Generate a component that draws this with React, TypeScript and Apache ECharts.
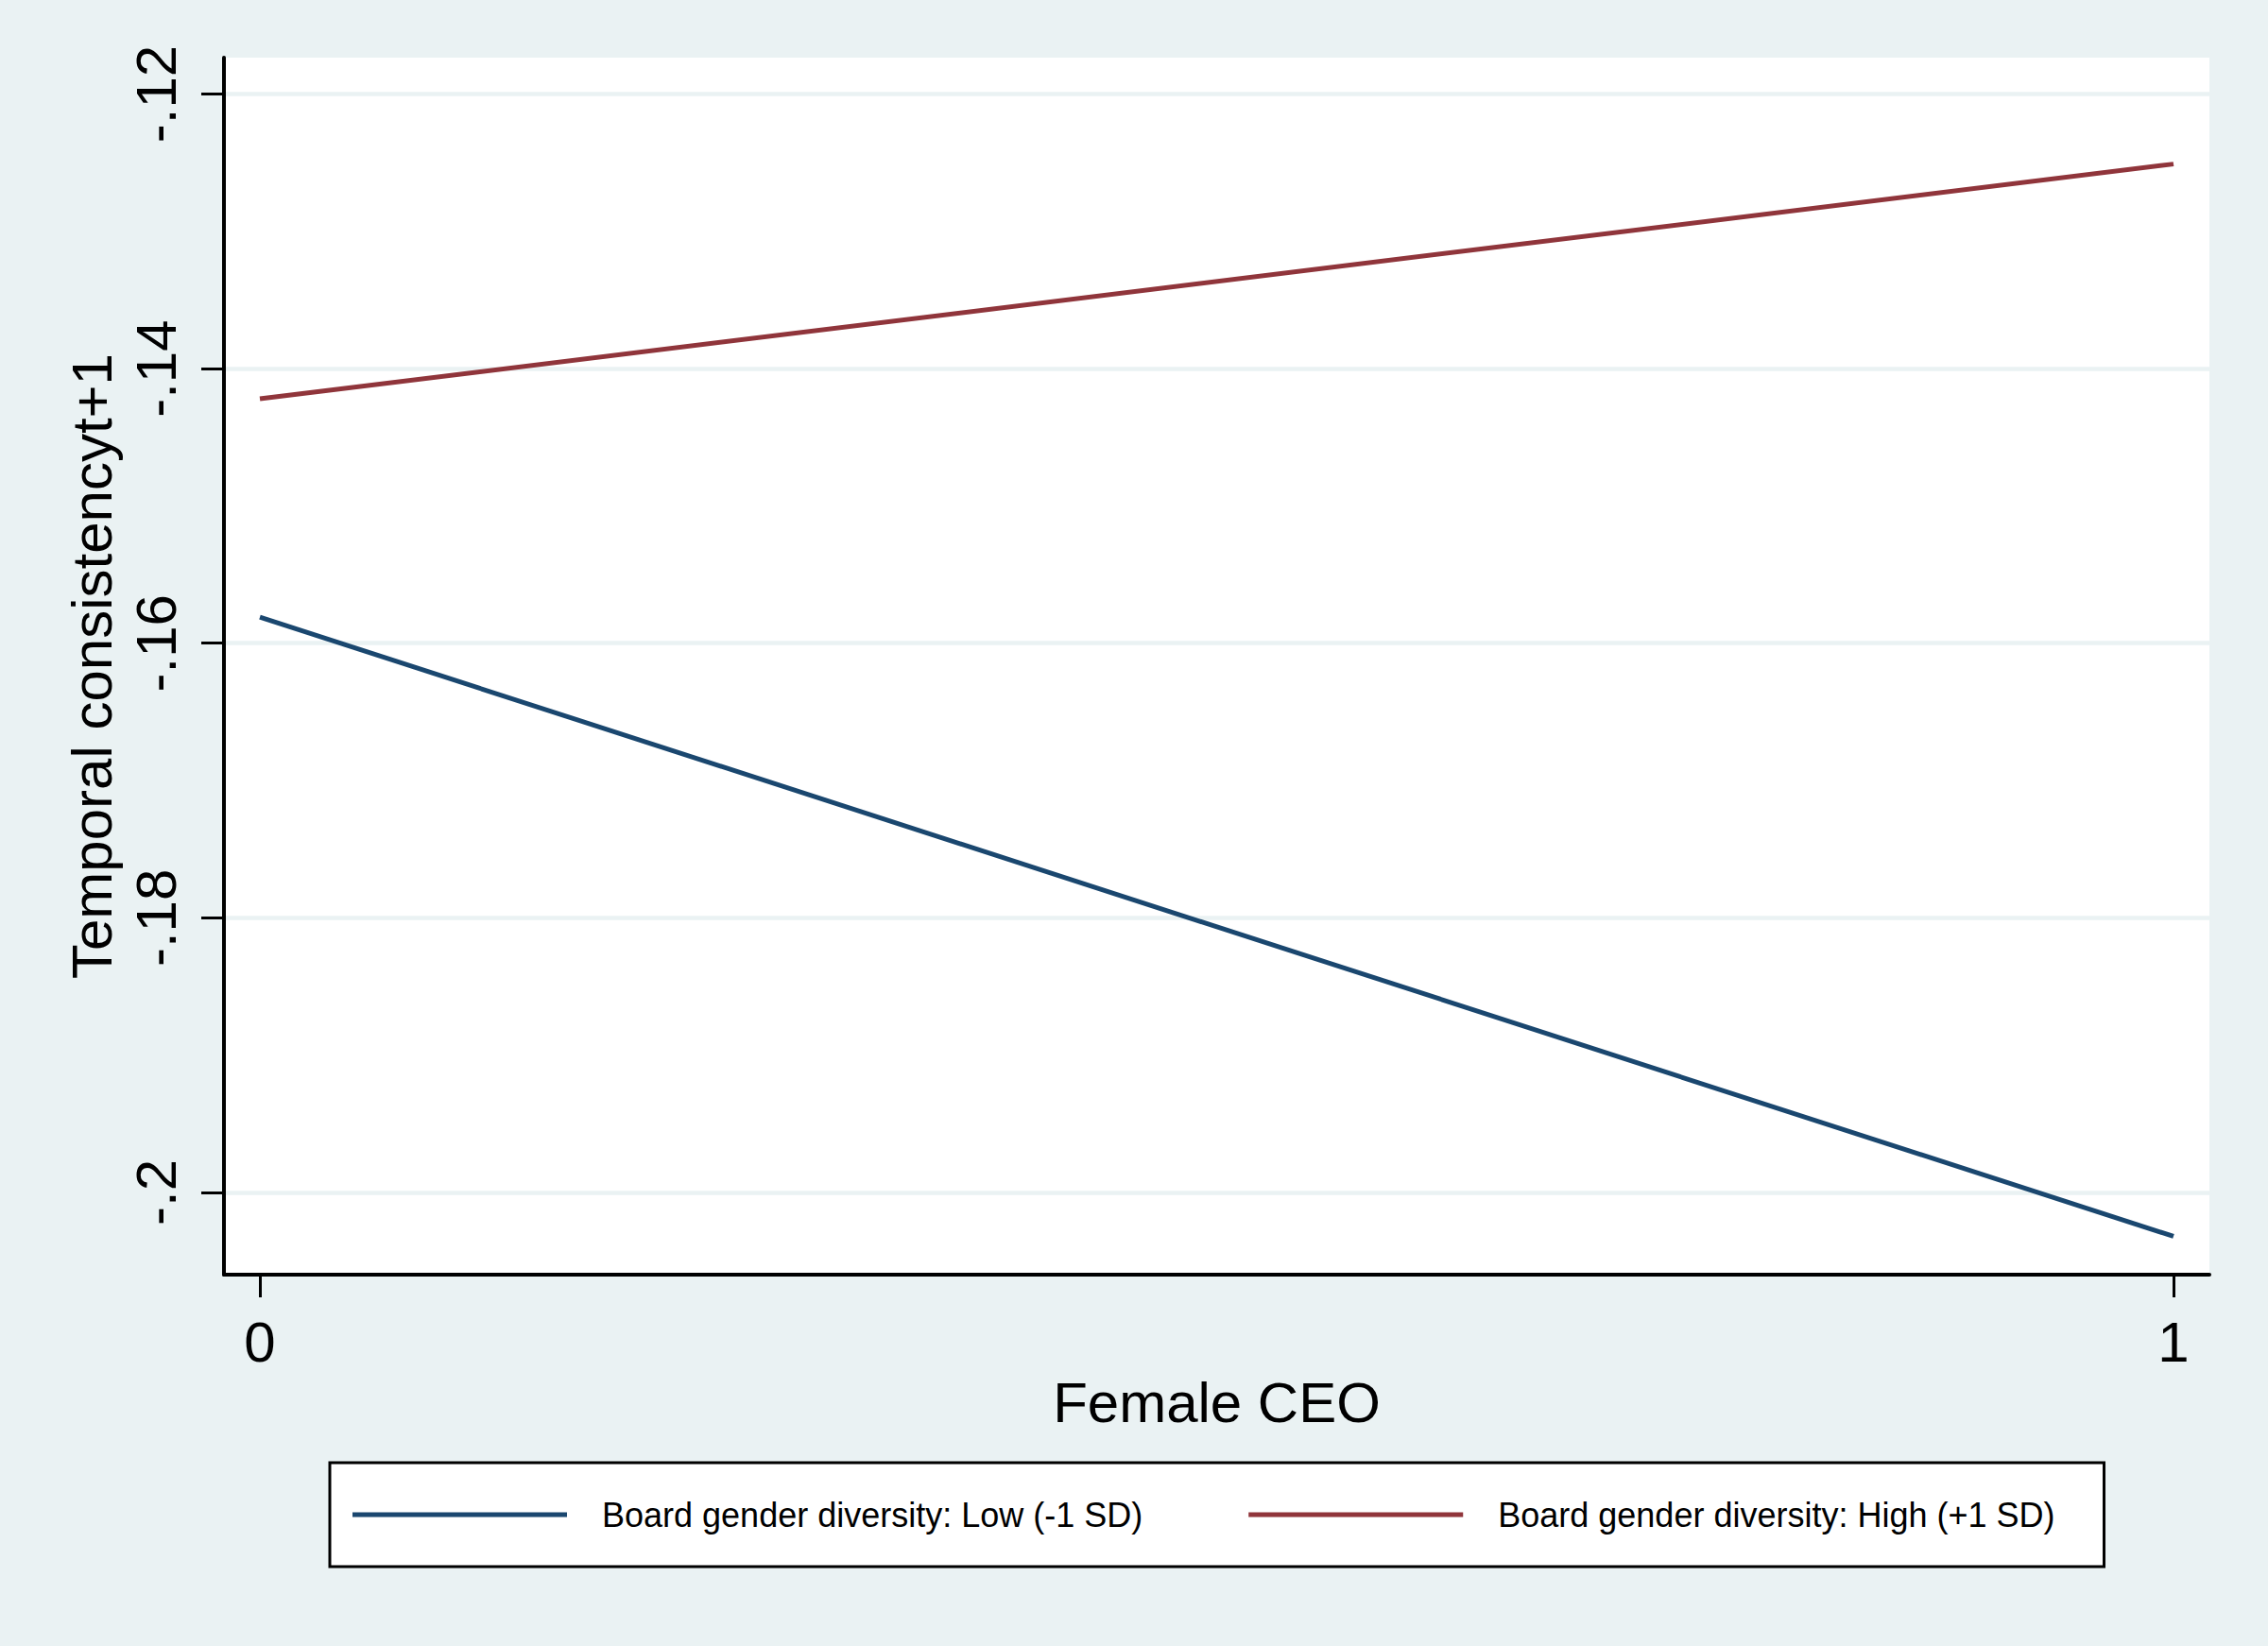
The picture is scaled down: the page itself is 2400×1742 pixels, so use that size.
import { useEffect, useRef } from 'react';
import * as echarts from 'echarts';

// x values (Female CEO: 0 / 1)
const xValues = [0, 1];
const xTickLabels = ['0', '1'];

// predicted values
const lowSeries = [-0.1581, -0.2032];
const highSeries = [-0.1422, -0.1251];

const yTicks = [-0.2, -0.18, -0.16, -0.14, -0.12];
const yTickLabels = ['-.2', '-.18', '-.16', '-.14', '-.12'];

const seriesNames = [
  'Board gender diversity: Low (-1 SD)',
  'Board gender diversity: High (+1 SD)',
];

const FONT = '"Liberation Sans", Arial, Helvetica, sans-serif';
const BLUE = '#1a476f';
const RED = '#90353b';
const BG = '#eaf2f3';

export default function App() {
  const chartRef = useRef<HTMLDivElement>(null);

  useEffect(() => {
    if (!chartRef.current) return;
    const chart = echarts.init(chartRef.current, undefined, { renderer: 'svg' });

    const label = (v: number, values: number[], labels: string[]) => {
      const i = values.findIndex(t => Math.abs(t - v) < 1e-9);
      return i >= 0 ? labels[i] : '';
    };

    chart.setOption({
      animation: false,
      backgroundColor: BG,
      textStyle: { fontFamily: FONT },
      grid: {
        left: 237,
        right: 62,
        top: 61,
        bottom: 393,
        show: true,
        backgroundColor: '#ffffff',
        borderWidth: 0,
      },
      legend: {
        left: 349,
        top: 1548,
        orient: 'horizontal',
        selectedMode: false,
        icon: 'rect',
        itemWidth: 227,
        itemHeight: 5,
        itemGap: 112,
        padding: [37, 52, 37, 24],
        backgroundColor: '#ffffff',
        borderColor: '#000000',
        borderWidth: 3,
        borderRadius: 0,
        textStyle: {
          color: '#000000',
          fontSize: 36,
          fontFamily: FONT,
          padding: [0, 0, 0, 32],
        },
        data: seriesNames,
      },
      xAxis: {
        type: 'value',
        min: -0.01877,
        max: 1.01877,
        name: 'Female CEO',
        nameLocation: 'middle',
        nameGap: 96,
        nameTextStyle: { color: '#000000', fontSize: 60, fontFamily: FONT },
        axisLine: { show: true, onZero: false, lineStyle: { color: '#000000', width: 4 } },
        axisTick: {
          show: true,
          inside: false,
          length: 24,
          customValues: xValues,
          lineStyle: { color: '#000000', width: 3 },
        },
        axisLabel: {
          show: true,
          margin: 41,
          fontSize: 60,
          color: '#000000',
          fontFamily: FONT,
          customValues: xValues,
          formatter: (v: number) => label(v, xValues, xTickLabels),
        },
        splitLine: { show: false },
      },
      yAxis: {
        type: 'value',
        min: -0.20599,
        max: -0.11735,
        name: 'Temporal consistencyt+1',
        nameLocation: 'middle',
        nameRotate: 90,
        nameGap: 108,
        nameTextStyle: { color: '#000000', fontSize: 60, fontFamily: FONT },
        axisLine: { show: true, onZero: false, lineStyle: { color: '#000000', width: 4 } },
        axisTick: {
          show: true,
          inside: false,
          length: 24,
          customValues: yTicks,
          lineStyle: { color: '#000000', width: 3 },
        },
        axisLabel: {
          show: true,
          rotate: 90,
          margin: 42,
          fontSize: 60,
          color: '#000000',
          fontFamily: FONT,
          customValues: yTicks,
          formatter: (v: number) => label(v, yTicks, yTickLabels),
        },
        splitLine: { show: true, lineStyle: { color: BG, width: 4.5 } },
      },
      series: [
        {
          name: seriesNames[0],
          type: 'line',
          symbol: 'none',
          color: BLUE,
          lineStyle: { color: BLUE, width: 5 },
          data: xValues.map((x, i) => [x, lowSeries[i]]),
        },
        {
          name: seriesNames[1],
          type: 'line',
          symbol: 'none',
          color: RED,
          lineStyle: { color: RED, width: 5 },
          data: xValues.map((x, i) => [x, highSeries[i]]),
        },
      ],
    });

    return () => chart.dispose();
  }, []);

  return (
    <div
      ref={chartRef}
      style={{ position: 'fixed', left: 0, top: 0, width: 2400, height: 1742 }}
    />
  );
}
